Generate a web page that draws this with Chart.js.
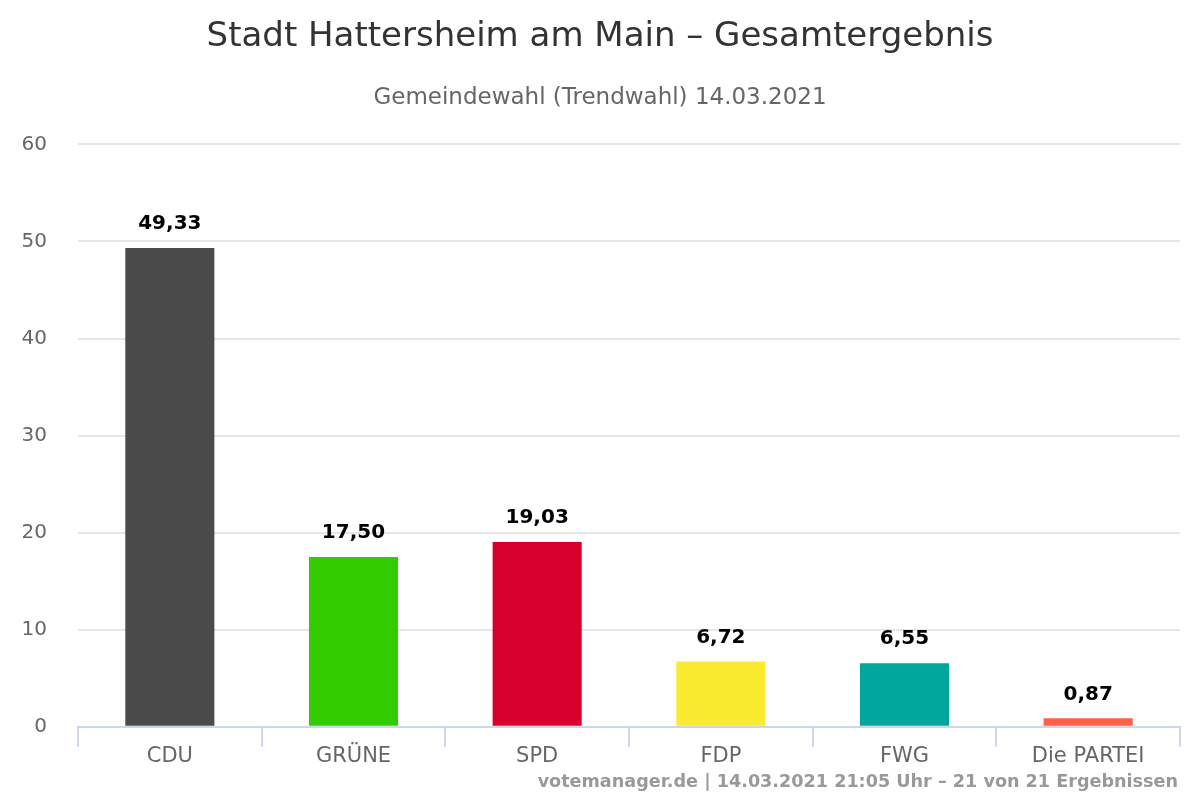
<!DOCTYPE html>
<html>
<head>
<meta charset="utf-8">
<script src="https://cdn.jsdelivr.net/npm/chart.js@4"></script>
<style>
  body { margin: 0; background: #fff; }
  #wrap { width: 1200px; height: 800px; position: relative; }
</style>
</head>
<body>
<div id="wrap"><canvas id="myChart"></canvas></div>
<script>
const parties = ["CDU", "GRÜNE", "SPD", "FDP", "FWG", "Die PARTEI"]
const shares = [49.33, 17.50, 19.03, 6.72, 6.55, 0.87]
const partyColors = ["#4b4b4b", "#33cc00", "#d7002c", "#faeb30", "#00a69c", "#fe604a"]
const yTicks = [0, 10, 20, 30, 40, 50, 60]

const fontFamily = "'DejaVu Sans', sans-serif"

function formatShare(v) {
    return v.toFixed(2).replace(".", ",")
}

// value labels above each bar
const barLabels = {
    id: "barLabels",
    afterDatasetsDraw(chart) {
        const ctx = chart.ctx
        const meta = chart.getDatasetMeta(0)
        ctx.save()
        ctx.font = "bold 20px " + fontFamily
        ctx.fillStyle = "#000"
        ctx.textAlign = "center"
        ctx.textBaseline = "middle"
        meta.data.forEach((bar, i) => {
            ctx.fillText(formatShare(shares[i]), bar.x, bar.y - 24)
        })
        ctx.restore()
    }
}

// credits line, bottom right
const credits = {
    id: "credits",
    afterDraw(chart) {
        const ctx = chart.ctx
        ctx.save()
        ctx.font = "bold 17.6px " + fontFamily
        ctx.fillStyle = "#999"
        ctx.textAlign = "right"
        ctx.textBaseline = "middle"
        ctx.fillText("votemanager.de | 14.03.2021 21:05 Uhr – 21 von 21 Ergebnissen", 1178, 782)
        ctx.restore()
    }
}

function main() {
    const ctx = document.getElementById("myChart")

    new Chart(ctx, {
        type: "bar",
        data: {
            labels: parties,
            datasets: [
                {
                    data: shares,
                    backgroundColor: partyColors,
                    barPercentage: 0.485,
                    categoryPercentage: 1,
                },
            ],
        },
        options: {
            responsive: true,
            maintainAspectRatio: false,
            animation: false,
            layout: {
                padding: { left: 20, right: 20, top: 0, bottom: 34 },
            },
            plugins: {
                legend: { display: false },
                tooltip: { enabled: false },
                title: {
                    display: true,
                    text: "Stadt Hattersheim am Main – Gesamtergebnis",
                    color: "#333",
                    font: { family: fontFamily, size: 34, weight: "normal", lineHeight: 1.2 },
                    padding: { top: 17, bottom: 26 },
                },
                subtitle: {
                    display: true,
                    text: "Gemeindewahl (Trendwahl) 14.03.2021",
                    color: "#666",
                    font: { family: fontFamily, size: 23, weight: "normal", lineHeight: 1.2 },
                    padding: { top: 0, bottom: 33 },
                },
            },
            scales: {
                x: {
                    grid: {
                        offset: true,
                        drawOnChartArea: false,
                        drawTicks: true,
                        tickLength: 20,
                        color: "#ccd6eb",
                        lineWidth: 2,
                    },
                    border: { color: "#ccd6eb", width: 2 },
                    ticks: {
                        color: "#666",
                        padding: -3,
                        font: { family: fontFamily, size: 21 },
                    },
                },
                y: {
                    min: 0,
                    max: 60,
                    afterFit(scale) {
                        scale.width = 58
                    },
                    afterBuildTicks(scale) {
                        scale.ticks = yTicks.map(v => ({ value: v }))
                    },
                    grid: {
                        color: "#e6e6e6",
                        lineWidth: 2,
                        drawTicks: false,
                    },
                    border: { display: false },
                    ticks: {
                        color: "#666",
                        padding: 31,
                        font: { family: fontFamily, size: 20 },
                    },
                },
            },
        },
        plugins: [barLabels, credits],
    })
}

document.addEventListener("DOMContentLoaded", main)
</script>
</body>
</html>
